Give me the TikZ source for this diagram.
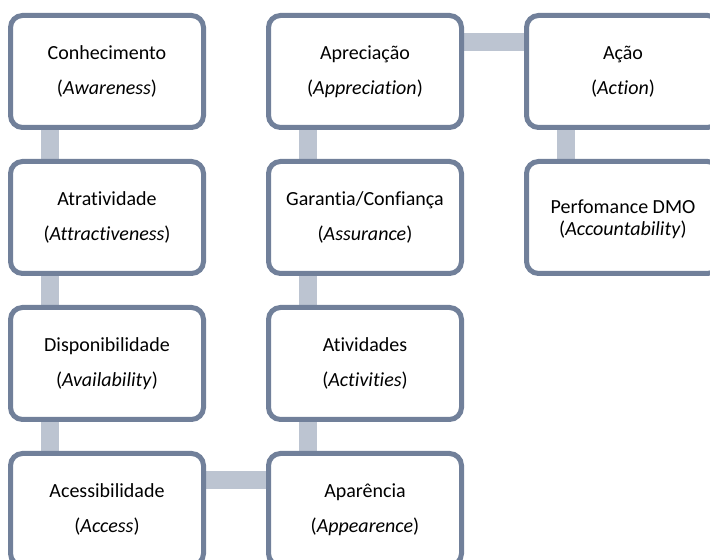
\documentclass[tikz,border=0pt]{standalone}
\usepackage{fontspec}
\setmainfont{Carlito}[Ligatures=NoCommon]
\usepackage{tikz}
\usetikzlibrary{
  matrix,
  positioning,
  backgrounds
}
\definecolor{boxedge}{RGB}{113,128,154}
\definecolor{linkgray}{RGB}{188,196,209}

\begin{document}
\begin{tikzpicture}[
      x=0.75pt,y=0.75pt,
      stage/.style={
         rectangle,
         rounded corners=9pt,
         line width=3.75pt,
         draw=boxedge,
         fill=white,
         minimum width=144.75pt,
         minimum height=84pt,
         align=center,
         font=\fontsize{15pt}{26pt}\selectfont
      },
      tight/.style={font=\fontsize{15pt}{16.5pt}\selectfont,text depth=0pt},
      link/.style={line width=13.5pt,draw=linkgray}
    ]
    \useasboundingbox (0,0) rectangle (710,560);
    \matrix[column sep=45pt, row sep=21.75pt, anchor=north west, inner sep=0pt, outer sep=0pt] at (8,547) {
\node (n11) [stage] {Conhecimento\\(\textit{Awareness})}; & \node (n12) [stage] {Apreciação\\(\textit{Appreciation})}; & \node (n13) [stage] {Ação\\(\textit{Action})};\\
\node (n21) [stage] {Atratividade\\(\textit{Attractiveness})}; & \node (n22) [stage] {Garantia/Confiança\\(\textit{Assurance})}; & \node (n23) [stage,tight] {Perfomance DMO\\(\textit{Accountability})};\\
\node (n31) [stage] {Disponibilidade\\(\textit{Availability})}; & \node (n32) [stage] {Atividades\\(\textit{Activities})}; & \\
\node (n41) [stage] {Acessibilidade\\(\textit{Access})}; & \node (n42) [stage] {Aparência\\(\textit{Appearence})}; & \\
    };
  \begin{scope}[on background layer]
    \draw[link] ([xshift=-42.75pt]n11.south) -- ([xshift=-42.75pt]n21.north);
    \draw[link] ([xshift=-42.75pt]n21.south) -- ([xshift=-42.75pt]n31.north);
    \draw[link] ([xshift=-42.75pt]n31.south) -- ([xshift=-42.75pt]n41.north);
    \draw[link] ([yshift=21.75pt]n41.east) -- ([yshift=21.75pt]n42.west);
    \draw[link] ([xshift=-42.75pt]n42.north) -- ([xshift=-42.75pt]n32.south);
    \draw[link] ([xshift=-42.75pt]n32.north) -- ([xshift=-42.75pt]n22.south);
    \draw[link] ([xshift=-42.75pt]n22.north) -- ([xshift=-42.75pt]n12.south);
    \draw[link] ([yshift=21.75pt]n12.east) -- ([yshift=21.75pt]n13.west);
    \draw[link] ([xshift=-42.75pt]n13.south) -- ([xshift=-42.75pt]n23.north);
  \end{scope}
\end{tikzpicture}
\end{document}
